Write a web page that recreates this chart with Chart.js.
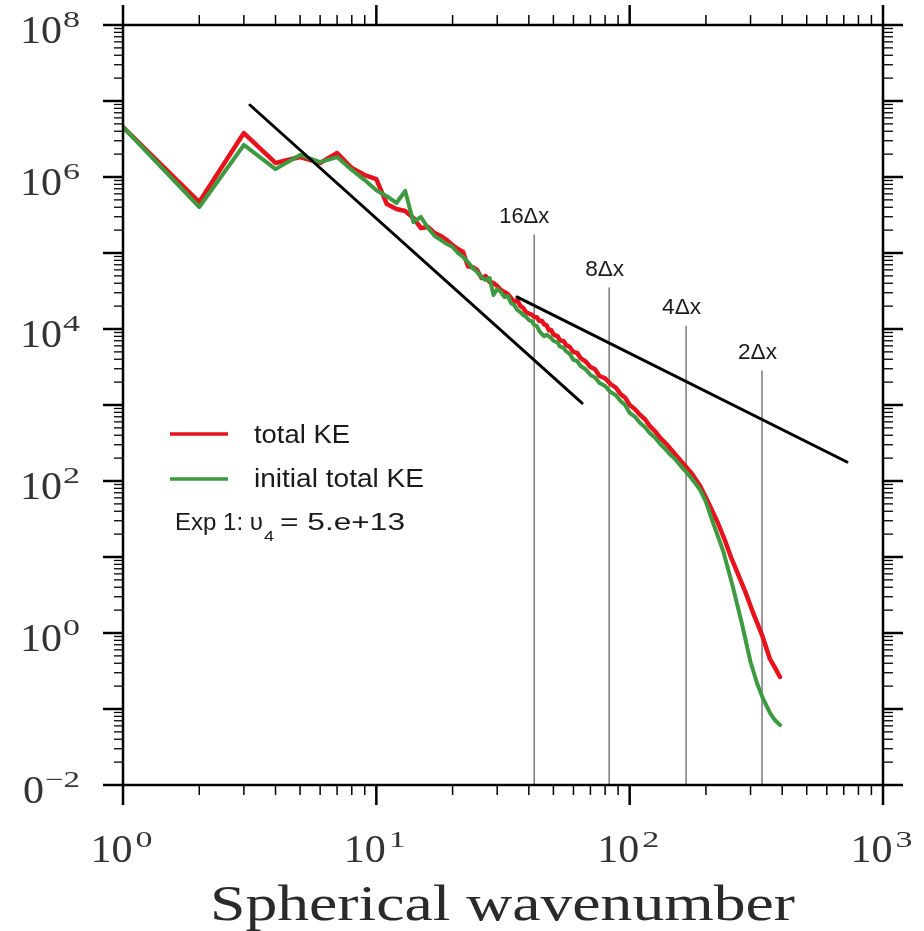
<!DOCTYPE html>
<html>
<head>
<meta charset="utf-8">
<script src="https://cdn.jsdelivr.net/npm/chart.js@4.4.0/dist/chart.umd.min.js"></script>
<style>
html,body{margin:0;padding:0;background:#fff;}
#c{display:block;}
</style>
</head>
<body>
<canvas id="c" width="924" height="931"></canvas>
<script>
// ---------------- data ----------------
const seriesNames = ['total KE', 'initial total KE'];
const annotationText = ['Exp 1: \u03C5', '4', '= 5.e+13'];
const axisTitleX = 'Spherical wavenumber';

const kRed = [1,2,3,4,5,6,7,8,9,10,11,12,13,14,15,16,17,18,19,20,21,22,23,24,25,26,27,28,29,30,31,32,33,34,35,36,37,
  38,39,40,41,42,43,44,45,46,47,48,49,50,52,53,55,56,58,60,62,64,67,70,73,76,80,84,88,92,96,100,105,110,115,120,126,132,138,144,152,162,175,190,205,223,237,251,268,286,307,333,358,375,392];
const keRed = [4.55e6,4.69e5,3.79e6,1.53e6,1.83e6,1.53e6,2.07e6,1.31e6,1.06e6,9.4e5,4.4e5,3.8e5,3.57e5,2.89e5,2.13e5,2.2e5,1.83e5,1.67e5,1.48e5,1.27e5,1.13e5,1.03e5,6.7e4,6.5e4,5.97e4,4.69e4,4.98e4,4.15e4,4.03e4,3.68e4,3.26e4,3.07e4,2.89e4,2.56e4,2.26e4,2.41e4,2.01e4,
  1.89e4,1.66e4,1.6e4,1.55e4,1.44e4,1.43e4,1.27e4,1.28e4,1.15e4,1.12e4,9.6e3,9.7e3,8.5e3,8.0e3,7.1e3,6.9e3,6.2e3,5.8e3,4.98e3,4.85e3,4.15e3,3.75e3,3.16e3,2.95e3,2.41e3,2.25e3,1.89e3,1.7e3,1.4e3,1.25e3,1.0e3,880,738,650,530,450,368,320,272,220,173,128,85,51,28,17,10,5.9,3.5,1.85,0.94,0.455,0.347,0.264];

const kGreen = [1,2,3,4,5,6,7,8,9,10,11,12,13,14,15,16,17,18,19,20,21,22,23,24,25,26,27,28,29,30,31,32,33,34,35,36,37,
  38,39,40,41,42,43,44,45,46,47,48,49,50,52,53,55,56,58,60,62,64,67,70,73,76,80,84,88,92,96,100,105,110,115,120,126,132,138,144,151,158,170,180,190,200,212,234,255,277,300,318,335,358,374,392];
const keGreen = [4.55e6,4.03e5,2.64e6,1.27e6,1.95e6,1.57e6,1.83e6,1.24e6,9.1e5,6.7e5,5.6e5,4.55e5,6.55e5,2.56e5,2.98e5,2.13e5,1.67e5,1.48e5,1.31e5,1.2e5,1.0e5,8.86e4,7.6e4,6.35e4,5.6e4,4.83e4,4.41e4,4.69e4,2.8e4,3.36e4,3.07e4,2.64e4,2.72e4,2.2e4,2.07e4,1.78e4,1.67e4,
  1.53e4,1.45e4,1.31e4,1.27e4,1.13e4,1.1e4,9.4e3,8.6e3,8.0e3,8.4e3,8.0e3,7.6e3,7.0e3,6.6e3,5.9e3,5.6e3,5.1e3,4.7e3,3.91e3,3.8e3,3.26e3,2.95e3,2.48e3,2.3e3,1.95e3,1.78e3,1.48e3,1.35e3,1.13e3,1.0e3,785,700,580,510,428,370,307,265,226,195,162,124,97,76,53,29.8,12,4.15,1.35,0.415,0.22,0.14,0.0886,0.0716,0.0616];

const slope3K = [3.17, 64.9];
const slope3E = [8.86e6, 1.06e3];
const slope53K = [35.9, 721];
const slope53E = [2.64e4, 178];

const resolutionK = [42, 83, 167, 333];
const resolutionTop = [1.73e5, 3.46e4, 1.09e4, 2.8e3];
const resolutionLabels = ['16\u0394x', '8\u0394x', '4\u0394x', '2\u0394x'];

const xTickExps = [0, 1, 2, 3];
const yTickExps = [8, 6, 4, 2, 0, -2];

// ---------------- chart ----------------
const toXY = (xs, ys) => xs.map((v, i) => ({x: v, y: ys[i]}));
const RED = '#e8121c', GREEN = '#3d9a40', GREY = '#7a7a7a';

const datasets = [
  {data: toXY(slope3K, slope3E), borderColor: '#000', borderWidth: 3},
  {data: toXY(slope53K, slope53E), borderColor: '#000', borderWidth: 3},
  {label: seriesNames[1], data: toXY(kGreen, keGreen), borderColor: GREEN, borderWidth: 4},
  {label: seriesNames[0], data: toXY(kRed, keRed), borderColor: RED, borderWidth: 4.5}
];
resolutionK.forEach((k, i) => {
  datasets.push({data: [{x: k, y: resolutionTop[i]}, {x: k, y: 0.01}], borderColor: GREY, borderWidth: 1.5});
});

function fitText(ctx, str, x, y, font, w, align) {
  ctx.font = font;
  const nat = ctx.measureText(str).width;
  const s = w / nat;
  let left = x;
  if (align === 'right') left = x - w;
  else if (align === 'center') left = x - w / 2;
  ctx.save();
  ctx.translate(left, y);
  ctx.scale(s, 1);
  ctx.textAlign = 'left';
  ctx.textBaseline = 'alphabetic';
  ctx.fillText(str, 0, 0);
  ctx.restore();
}

const BASE_FONT = '39px "Liberation Serif"';
const SUP_FONT = '23px "Liberation Serif"';
function supText(e) { return String(e).replace('-', '\u2212'); }
function supWidth(e) { return e < 0 ? 35 : 17; }

const decor = {
  id: 'decor',
  afterDraw(chart) {
    const {ctx, chartArea: a, scales} = chart;
    const xs = scales.x, ys = scales.y;
    ctx.save();
    ctx.strokeStyle = '#000';
    ctx.lineCap = 'butt';
    const tick = (px, py, dx, dy, w) => {
      ctx.lineWidth = w;
      ctx.beginPath(); ctx.moveTo(px, py); ctx.lineTo(px + dx, py + dy); ctx.stroke();
    };
    // x ticks (bottom & top, outward)
    for (let d = 0; d <= 3; d++) {
      const px = xs.getPixelForValue(Math.pow(10, d));
      tick(px, a.bottom, 0, 20, 2.5);
      tick(px, a.top, 0, -20, 2.5);
      if (d < 3) for (let m = 2; m <= 9; m++) {
        const p = xs.getPixelForValue(m * Math.pow(10, d));
        tick(p, a.bottom, 0, 10, 1.5);
        tick(p, a.top, 0, -10, 1.5);
      }
    }
    // y ticks (left & right, outward)
    for (let d = -2; d <= 8; d++) {
      const py = ys.getPixelForValue(Math.pow(10, d));
      tick(a.left, py, -20, 0, 2.5);
      tick(a.right, py, 20, 0, 2.5);
      if (d < 8) for (let m = 2; m <= 9; m++) {
        const p = ys.getPixelForValue(m * Math.pow(10, d));
        tick(a.left, p, -9, 0, 1.3);
        tick(a.right, p, 10, 0, 1.3);
      }
    }
    // frame
    ctx.lineWidth = 2.5;
    ctx.strokeRect(a.left, a.top, a.right - a.left, a.bottom - a.top);

    ctx.fillStyle = '#333';
    // y tick labels (left edge of picture is cropped as in the reference)
    ctx.save();
    ctx.beginPath(); ctx.rect(21, 0, 200, chart.height); ctx.clip();
    yTickExps.forEach(e => {
      const py = ys.getPixelForValue(Math.pow(10, e));
      const sw = supWidth(e);
      const right = a.left - 43;
      fitText(ctx, supText(e), right, py + 2, SUP_FONT, sw, 'right');
      fitText(ctx, '10', right - sw - 1, py + 18, BASE_FONT, 42, 'right');
    });
    ctx.restore();
    // x tick labels
    xTickExps.forEach(e => {
      const px = xs.getPixelForValue(Math.pow(10, e));
      const sw = supWidth(e);
      const total = 42 + 3 + sw;
      const left = px - 1.5 - total / 2;
      fitText(ctx, '10', left, a.bottom + 77, BASE_FONT, 42, 'left');
      fitText(ctx, supText(e), left + 45, a.bottom + 62, SUP_FONT, sw, 'left');
    });
    // axis title
    ctx.fillStyle = '#2a2a2a';
    fitText(ctx, axisTitleX, 210, a.bottom + 135, '51px "Liberation Serif"', 585, 'left');

    // resolution labels
    ctx.fillStyle = '#1a1a1a';
    resolutionK.forEach((k, i) => {
      const px = xs.getPixelForValue(k);
      const py = ys.getPixelForValue(resolutionTop[i]);
      const w = resolutionLabels[i].length > 3 ? 50 : 39;
      fitText(ctx, resolutionLabels[i], px + 15, py - 12, '22px "Liberation Sans"', w, 'right');
    });

    // legend
    ctx.lineWidth = 3.5;
    ctx.strokeStyle = RED;
    ctx.beginPath(); ctx.moveTo(170, 434); ctx.lineTo(228, 434); ctx.stroke();
    ctx.strokeStyle = GREEN;
    ctx.beginPath(); ctx.moveTo(170, 479); ctx.lineTo(228, 479); ctx.stroke();
    ctx.fillStyle = '#1a1a1a';
    fitText(ctx, seriesNames[0], 254, 443, '25px "Liberation Sans"', 96, 'left');
    fitText(ctx, seriesNames[1], 254, 487, '25px "Liberation Sans"', 170, 'left');
    fitText(ctx, annotationText[0], 175, 530, '24px "Liberation Sans"', 88, 'left');
    fitText(ctx, annotationText[1], 264, 541, '15px "Liberation Sans"', 10, 'left');
    fitText(ctx, annotationText[2], 280, 530, '24px "Liberation Sans"', 125, 'left');
    ctx.restore();
  }
};

new Chart(document.getElementById('c'), {
  type: 'line',
  data: {datasets},
  options: {
    responsive: false,
    animation: false,
    devicePixelRatio: 1,
    layout: {padding: {left: 123, top: 25, right: 41, bottom: 146}},
    elements: {
      point: {radius: 0, hoverRadius: 0},
      line: {tension: 0, borderJoinStyle: 'round', borderCapStyle: 'round', fill: false}
    },
    plugins: {legend: {display: false}, tooltip: {enabled: false}},
    scales: {
      x: {type: 'logarithmic', min: 1, max: 1000, display: false},
      y: {type: 'logarithmic', min: 0.01, max: 1e8, display: false}
    }
  },
  plugins: [decor]
});
</script>
</body>
</html>
